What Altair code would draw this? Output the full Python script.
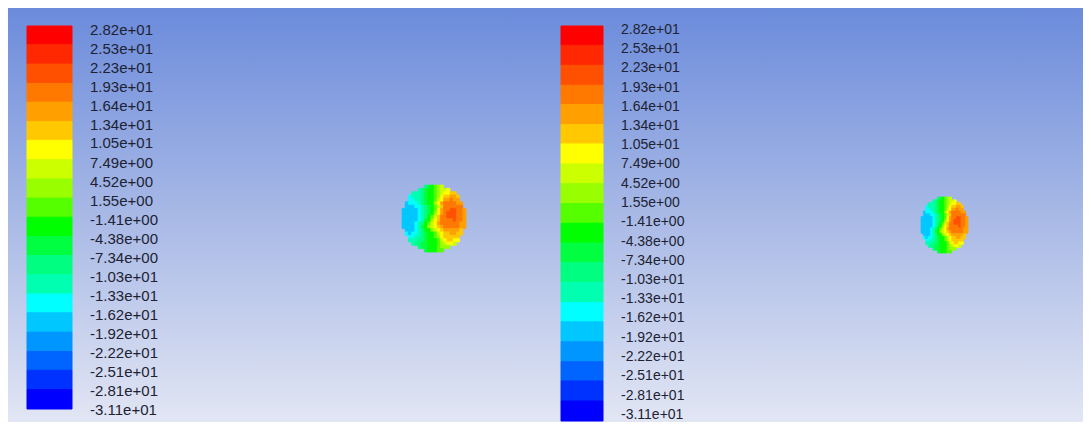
import altair as alt
import pandas as pd

# ---------------- data ----------------
labels = ["2.82e+01", "2.53e+01", "2.23e+01", "1.93e+01", "1.64e+01", "1.34e+01",
          "1.05e+01", "7.49e+00", "4.52e+00", "1.55e+00", "-1.41e+00", "-4.38e+00",
          "-7.34e+00", "-1.03e+01", "-1.33e+01", "-1.62e+01", "-1.92e+01", "-2.22e+01",
          "-2.51e+01", "-2.81e+01", "-3.11e+01"]

band_colors = ["#ff0000", "#ff2800", "#ff5000", "#ff7800", "#ffa000", "#ffc800",
               "#ffff00", "#ccff00", "#99ff00", "#55ff00", "#00ff00", "#00ff40",
               "#00ff80", "#00ffb0", "#00ffff", "#00c8ff", "#0096ff", "#0064ff",
               "#0032ff", "#0000ff"]

# contour band index per cell (base-20 digit, 0 = top/red band), '.' = outside
field_rows = [
    ".......cba987.......",
    ".....dcbaa98776.....",
    "...dddcbaa9876655...",
    "..edddcbaa98655445..",
    "..eeddcbaa97644344..",
    ".feeedcbaa864333344.",
    ".fffeedcba975333333.",
    "fffffedcba9643322334",
    "fffffedcba8643222334",
    "fffffedca97533222334",
    "fffffedba86533332334",
    "ffffedca976433333344",
    "ffffedba876543333344",
    ".fffedcaa8765444445.",
    ".efeedcbaa976554455.",
    "..eeddcbaa98655555..",
    "..dddccbaaa9765566..",
    "...dccbbaaa987667...",
    ".....cbbaaa9888.....",
    ".......baaa99.......",
]

# ---------------- layout ----------------
W, H = 1075, 414
OX, OY = 8, 8
FONT = "Liberation Sans"
TXT = "#202233"

values = [float(s) for s in labels]
bands_df = pd.DataFrame({
    "top": values[:-1],
    "bot": values[1:],
    "col": band_colors,
})
labels_df = pd.DataFrame({"v": values, "lab": labels})

cells = []
for r, s in enumerate(field_rows):
    for c, ch in enumerate(s):
        if ch == ".":
            continue
        cells.append({"c": c, "c2": c + 1, "r": r, "r2": r + 1,
                      "col": band_colors[int(ch, 20)]})
cells_df = pd.DataFrame(cells)

bg = alt.Chart(pd.DataFrame({"a": [0]})).mark_rect(
    fill=alt.Gradient(
        gradient="linear",
        stops=[alt.GradientStop(color="#6b8bdb", offset=0),
               alt.GradientStop(color="#a8b9e6", offset=0.5),
               alt.GradientStop(color="#e2e6f4", offset=1)],
        x1=0, x2=0, y1=0, y2=1),
).encode(x=alt.value(0), x2=alt.value(W), y=alt.value(0), y2=alt.value(H))


def colorbar(x0, x1, y_top, y_bot, tx, t_top, t_bot, fs):
    ysc = alt.Scale(domain=[values[-1], values[0]], range=[y_bot - OY, y_top - OY],
                    nice=False, zero=False)
    tsc = alt.Scale(domain=[values[-1], values[0]], range=[t_bot - OY, t_top - OY],
                    nice=False, zero=False)
    bars = alt.Chart(bands_df).mark_rect().encode(
        x=alt.value(x0 - OX), x2=alt.value(x1 - OX),
        y=alt.Y("top:Q", scale=ysc, axis=None), y2="bot:Q",
        color=alt.Color("col:N", scale=None),
        stroke=alt.Stroke("col:N", scale=None),
    )
    txt = alt.Chart(labels_df).mark_text(
        align="left", baseline="middle", fontSize=fs, font=FONT, color=TXT
    ).encode(
        x=alt.value(tx - OX),
        y=alt.Y("v:Q", scale=tsc, axis=None),
        text="lab:N",
    )
    return [bars, txt]


def disk(x0, x1, y0, y1):
    return alt.Chart(cells_df).mark_rect(strokeWidth=0.7).encode(
        x=alt.X("c:Q", scale=alt.Scale(domain=[0, 20], range=[x0 - OX, x1 - OX],
                                        nice=False, zero=False), axis=None),
        x2="c2:Q",
        y=alt.Y("r:Q", scale=alt.Scale(domain=[0, 20], range=[y0 - OY, y1 - OY],
                                        nice=False, zero=False), axis=None),
        y2="r2:Q",
        color=alt.Color("col:N", scale=None),
        stroke=alt.Stroke("col:N", scale=None),
    )


layers = [bg]
layers += colorbar(27, 72, 26, 409, 90, 30, 410, 15)
layers += colorbar(561, 603, 26, 421, 621, 30, 415, 14)
layers.append(disk(402, 466, 185, 252))
layers.append(disk(921, 968, 197, 253))

chart = alt.layer(*layers).resolve_scale(
    x="independent", y="independent"
).properties(
    width=W, height=H, padding=0,
    autosize=alt.AutoSizeParams(type="none"),
).configure_view(stroke=None)

chart.save("out.html", embed_options={"renderer": "svg", "actions": False})
